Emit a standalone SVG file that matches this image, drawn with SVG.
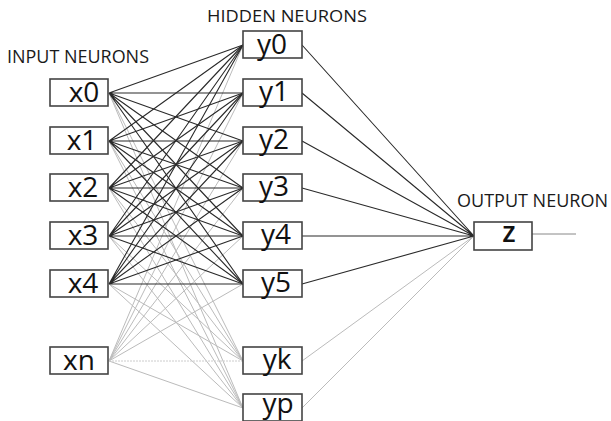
<svg xmlns="http://www.w3.org/2000/svg" width="611" height="421" viewBox="0 0 611 421">
<style>
.bg{fill:#fff}
.box{fill:#fff;stroke:#444;stroke-width:1.6}
.lbl{font-family:"Open Sans","DejaVu Sans",sans-serif;font-size:28px;fill:#111;text-anchor:middle}
.head{font-family:"Open Sans","DejaVu Sans",sans-serif;fill:#1a1a1a}
.dk{stroke:#2a2a2a;stroke-width:1.1;fill:none}
.lt{stroke:#bbb;stroke-width:1;fill:none}
.dt{stroke:#ccc;stroke-width:1;stroke-dasharray:2 1;fill:none}
</style>
<rect class="bg" x="0" y="0" width="611" height="421"/>
<g id="connectors">
  <path class="lt" d="M109 93L243 361M109 141L243 361M109 188L243 361M109 236L243 361M109 284L243 361"/>
  <path class="lt" d="M109 93L243 408M109 141L243 408M109 188L243 408M109 236L243 408M109 284L243 408"/>
  <path class="lt" d="M109 361L243 45M109 361L243 93M109 361L243 141M109 361L243 188M109 361L243 236M109 361L243 284M109 361L243 408"/>
  <path class="dt" d="M109 361L243 361"/>
  <path class="lt" d="M302 361L474 236M302 408L474 236"/>
  <path class="dk" d="M109 93L243 45M109 93L243 93M109 93L243 141M109 93L243 188M109 93L243 236M109 93L243 284"/>
  <path class="dk" d="M109 141L243 45M109 141L243 93M109 141L243 141M109 141L243 188M109 141L243 236M109 141L243 284"/>
  <path class="dk" d="M109 188L243 45M109 188L243 93M109 188L243 141M109 188L243 188M109 188L243 236M109 188L243 284"/>
  <path class="dk" d="M109 236L243 45M109 236L243 93M109 236L243 141M109 236L243 188M109 236L243 236M109 236L243 284"/>
  <path class="dk" d="M109 284L243 45M109 284L243 93M109 284L243 141M109 284L243 188M109 284L243 236M109 284L243 284"/>
  <path class="dk" d="M302 45L474 236M302 93L474 236M302 141L474 236M302 188L474 236M302 236L474 236M302 284L474 236"/>
  <path class="lt" style="stroke:#888" d="M532 234L576 234"/>
</g>
<text class="head" x="7" y="63" font-size="18" textLength="142" lengthAdjust="spacingAndGlyphs">INPUT NEURONS</text>
<text class="head" x="207" y="22" font-size="17" textLength="160" lengthAdjust="spacingAndGlyphs">HIDDEN NEURONS</text>
<text class="head" x="457" y="207" font-size="18" textLength="151" lengthAdjust="spacingAndGlyphs">OUTPUT NEURON</text>
<g id="x0"><rect class="box" x="50" y="79" width="58" height="27"/><text class="lbl" x="84" y="102">x0</text></g>
<g id="x1"><rect class="box" x="50" y="127" width="58" height="27"/><text class="lbl" x="82" y="150">x1</text></g>
<g id="x2"><rect class="box" x="50" y="174" width="58" height="27"/><text class="lbl" x="83" y="197">x2</text></g>
<g id="x3"><rect class="box" x="50" y="222" width="58" height="27"/><text class="lbl" x="83" y="245">x3</text></g>
<g id="x4"><rect class="box" x="50" y="270" width="58" height="27"/><text class="lbl" x="83" y="293">x4</text></g>
<g id="xn"><rect class="box" x="50" y="347" width="58" height="27"/><text class="lbl" x="79" y="370">xn</text></g>
<g id="y0"><rect class="box" x="243" y="31" width="59" height="27"/><text class="lbl" x="272" y="54">y0</text></g>
<g id="y1"><rect class="box" x="243" y="79" width="59" height="27"/><text class="lbl" x="274" y="101">y1</text></g>
<g id="y2"><rect class="box" x="243" y="127" width="59" height="27"/><text class="lbl" x="274" y="149">y2</text></g>
<g id="y3"><rect class="box" x="243" y="174" width="59" height="27"/><text class="lbl" x="274" y="196">y3</text></g>
<g id="y4"><rect class="box" x="243" y="222" width="59" height="27"/><text class="lbl" x="276" y="244">y4</text></g>
<g id="y5"><rect class="box" x="243" y="270" width="59" height="27"/><text class="lbl" x="276" y="292">y5</text></g>
<g id="yk"><rect class="box" x="243" y="347" width="59" height="27"/><text class="lbl" x="277" y="369">yk</text></g>
<g id="yp"><rect class="box" x="243" y="394" width="59" height="27"/><text class="lbl" x="278" y="413">yp</text></g>
<g id="z"><rect class="box" x="474" y="222" width="58" height="28"/><text class="lbl" x="509" y="242" font-weight="600" font-size="24">z</text></g>
</svg>
